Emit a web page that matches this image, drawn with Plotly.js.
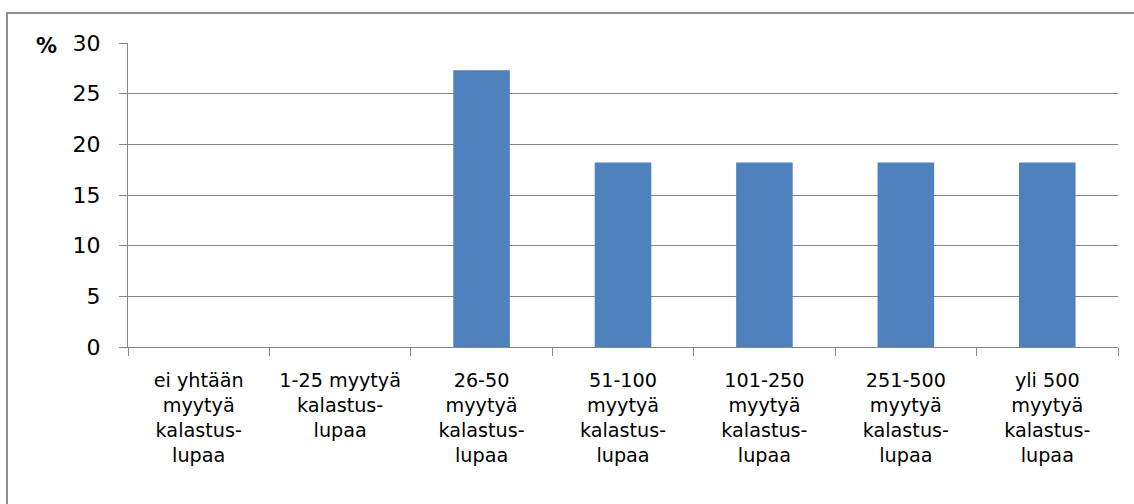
<!DOCTYPE html>
<html>
<head>
<meta charset="utf-8">
<script src="https://cdn.plot.ly/plotly-3.0.1.min.js"></script>
<style>
html,body{margin:0;padding:0;background:#fff;}
#frame{position:absolute;left:6px;top:12px;width:1140px;height:500px;border:2px solid #8e8e8e;box-sizing:border-box;}
#chart{position:absolute;left:0;top:0;width:1134px;height:504px;}
</style>
</head>
<body>
<div id="frame"></div>
<div id="chart"></div>
<script>
const categories = [
  "ei yhtään<br>myytyä<br>kalastus-<br>lupaa",
  "1-25 myytyä<br>kalastus-<br>lupaa",
  "26-50<br>myytyä<br>kalastus-<br>lupaa",
  "51-100<br>myytyä<br>kalastus-<br>lupaa",
  "101-250<br>myytyä<br>kalastus-<br>lupaa",
  "251-500<br>myytyä<br>kalastus-<br>lupaa",
  "yli 500<br>myytyä<br>kalastus-<br>lupaa"
];
const values = [0, 0, 27.3, 18.2, 18.2, 18.2, 18.2];
const yTicks = [0, 5, 10, 15, 20, 25, 30];

const FAMILY = "DejaVu Sans, sans-serif";
const xFont = {family: FAMILY, size: 19.2, color: "#000"};
const yFont = {family: FAMILY, size: 22, color: "#000"};

Plotly.newPlot("chart", [{
  type: "bar",
  x: categories,
  y: values,
  marker: {color: "#4F81BD"},
  width: 0.4,
  hoverinfo: "skip"
}], {
  width: 1134, height: 504,
  margin: {l: 128, r: 16, t: 43, b: 157, pad: 0},
  paper_bgcolor: "rgba(0,0,0,0)",
  plot_bgcolor: "rgba(0,0,0,0)",
  showlegend: false,
  font: yFont,
  xaxis: {
    type: "category",
    showline: true, linecolor: "#868686", linewidth: 1,
    ticks: "outside", tickson: "boundaries", ticklen: 8, tickcolor: "#868686",
    showgrid: false, zeroline: false,
    tickfont: xFont,
    ticklabelstandoff: 16
  },
  yaxis: {
    range: [0, 30],
    tickvals: yTicks,
    ticktext: yTicks.map(String),
    showline: true, linecolor: "#868686", linewidth: 1,
    ticks: "outside", ticklen: 8, tickcolor: "#868686",
    showgrid: true, gridcolor: "#868686", gridwidth: 1,
    zeroline: false,
    tickfont: yFont,
    ticklabelstandoff: 14
  },
  annotations: [{
    text: "<b>%</b>", xref: "paper", yref: "paper",
    x: -82/990, y: 1, yshift: -3, xanchor: "center", yanchor: "middle",
    showarrow: false, font: {family: FAMILY, size: 21, color: "#000"}
  }]
}, {displayModeBar: false, staticPlot: true});
</script>
</body>
</html>
